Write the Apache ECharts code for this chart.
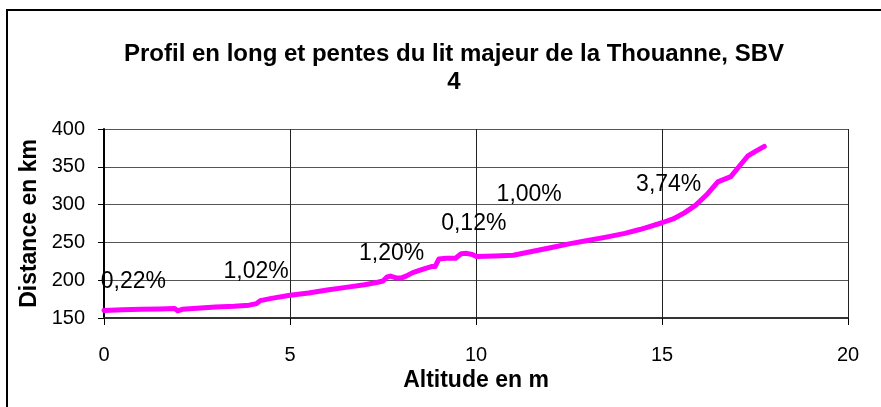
<!DOCTYPE html>
<html>
<head>
<meta charset="utf-8">
<script src="https://cdn.jsdelivr.net/npm/echarts@6/dist/echarts.min.js"></script>
<style>
html,body{margin:0;padding:0;background:#fff;}
#main{width:881px;height:407px;}
</style>
</head>
<body>
<div id="main"></div>
<script>
// Profile data: altitude (x, m) and distance (y, km)
var altitude = [0.0, 0.5, 1.0, 1.5, 1.9, 1.98, 2.1, 2.5, 3.0, 3.5, 3.9, 4.0, 4.1, 4.2, 4.5, 5.0, 5.5, 6.0, 6.5, 7.0, 7.33, 7.5, 7.6, 7.7, 7.85, 8.0, 8.1, 8.3, 8.6, 8.8, 8.9, 9.0, 9.2, 9.45, 9.6, 9.75, 9.9, 10.0, 10.5, 11.0, 11.5, 12.0, 12.5, 13.0, 13.5, 14.0, 14.4, 14.6, 15.0, 15.3, 15.6, 15.9, 16.2, 16.5, 16.7, 16.85, 17.1, 17.3, 17.5, 17.75];
var distance = [160, 161, 161.5, 162, 162.5, 159.5, 161.5, 163, 164.5, 165.5, 167, 168, 169, 173, 176, 180, 183, 187, 190.5, 194, 197, 199, 204, 205.5, 203, 203, 205, 210, 215, 218, 218, 228, 229, 229, 235, 235.5, 234, 231.5, 232, 233, 238, 243, 248, 252.5, 257, 262, 267, 270, 276, 281, 289, 299, 313, 330, 334, 337, 352, 364, 370, 377];

// Slope annotations
var annotX = [0.79, 4.09, 7.73, 9.94, 11.43, 15.18];
var annotY = [198, 211.5, 235.5, 275.3, 312.7, 326];
var annotText = ['0,22%', '1,02%', '1,20%', '0,12%', '1,00%', '3,74%'];

// Axis ticks
var xTicks = {min: 0, max: 20, interval: 5};
var yTicks = {min: 150, max: 400, interval: 50};

var lineData = altitude.map(function (a, i) { return [a, distance[i]]; });
var annotData = annotX.map(function (a, i) { return {value: [a, annotY[i]], name: annotText[i]}; });

var FONT = '"Liberation Sans", Arial, Helvetica, sans-serif';
var chart = echarts.init(document.getElementById('main'));
chart.setOption({
  animation: false,
  backgroundColor: '#fff',
  textStyle: {fontFamily: FONT},
  title: {
    text: 'Profil en long et pentes du lit majeur de la Thouanne, SBV\n4',
    left: 449,
    top: 35,
    textAlign: 'center',
    textStyle: {fontFamily: FONT, fontSize: 24, fontWeight: 'bold', color: '#000', lineHeight: 28}
  },
  graphic: [{
    type: 'rect',
    shape: {x: 7, y: 10, width: 900, height: 420},
    style: {fill: null, stroke: '#000', lineWidth: 2},
    silent: true
  }],
  grid: {left: 104, top: 129, right: 33, bottom: 89, containLabel: false, outerBoundsMode: 'none'},
  xAxis: {
    type: 'value',
    min: xTicks.min, max: xTicks.max, interval: xTicks.interval,
    name: 'Altitude en m',
    nameLocation: 'middle',
    nameGap: 51,
    nameTextStyle: {fontFamily: FONT, fontSize: 23, fontWeight: 'bold', color: '#000'},
    axisLine: {show: true, onZero: false, lineStyle: {color: '#333', width: 2}},
    axisTick: {show: true, inside: false, length: 7, lineStyle: {color: '#000', width: 1}},
    axisLabel: {fontFamily: FONT, fontSize: 20, color: '#000', margin: 27},
    splitLine: {show: true, lineStyle: {color: '#222', width: 1}}
  },
  yAxis: {
    type: 'value',
    min: yTicks.min, max: yTicks.max, interval: yTicks.interval,
    name: 'Distance en km',
    nameLocation: 'middle',
    nameGap: 50,
    nameTextStyle: {fontFamily: FONT, fontSize: 23, fontWeight: 'bold', color: '#000'},
    axisLine: {show: true, onZero: false, lineStyle: {color: '#000', width: 2}},
    axisTick: {show: true, inside: false, length: 6, lineStyle: {color: '#000', width: 1}},
    axisLabel: {fontFamily: FONT, fontSize: 20, color: '#000', margin: 19},
    splitLine: {show: true, lineStyle: {color: '#555', width: 1}}
  },
  series: [{
    type: 'line',
    data: lineData,
    showSymbol: false,
    symbol: 'none',
    lineStyle: {color: '#FF00FF', width: 5, cap: 'round', join: 'round'},
    z: 3
  }, {
    type: 'scatter',
    data: annotData,
    symbolSize: 0,
    silent: true,
    itemStyle: {opacity: 1},
    label: {
      show: true,
      position: 'inside',
      formatter: function (p) { return p.name; },
      fontFamily: FONT,
      fontSize: 23,
      color: '#000',
      opacity: 1,
      textBorderWidth: 0
    },
    z: 4
  }]
});
</script>
</body>
</html>
